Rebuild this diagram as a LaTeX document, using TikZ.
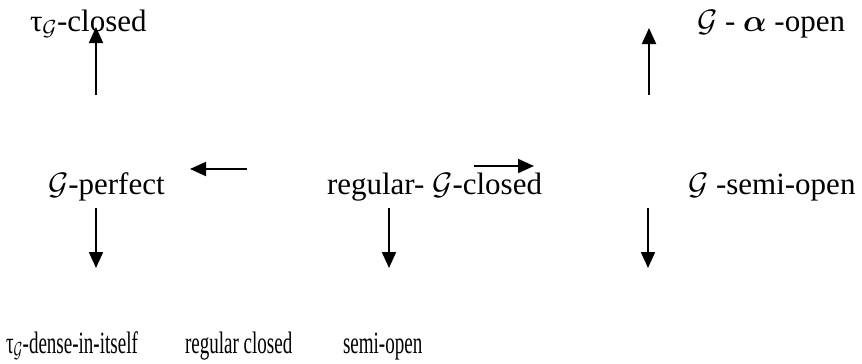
\documentclass[tikz,border=0pt]{standalone}
\usepackage{fix-cm}
\usepackage{amsmath}
\usepackage{bm}
\usepackage{fontspec}
\setmainfont{Liberation Serif}
\usetikzlibrary{arrows.meta}
\tikzset{
  lbl/.style={anchor=base west, inner sep=0pt, outer sep=0pt, font=\fontsize{31}{35}\selectfont},
  imp/.style={line width=2pt, -{Triangle[length=16pt,width=14pt]}}
}
\begin{document}
\begin{tikzpicture}[x=1pt,y=-1pt]
\useasboundingbox (0,0) rectangle (862,364);
% top row
\node[lbl] (tc) at (30,31) {τ$_{\mathcal{G}}$-closed};
\node[lbl] (ga) at (697,31) {$\mathcal{G}$ - $\bm{\alpha}$ -open};
% middle row
\node[lbl] (gp) at (48,194) {$\mathcal{G}$-perfect};
\node[lbl] (rg) at (327,194) {regular- $\mathcal{G}$-closed};
\node[lbl] (gs) at (688,194) {$\mathcal{G}$ -semi-open};
% bottom row
\node[lbl] (td) at (6,353) {\scalebox{0.614}[1]{τ$_{\mathcal{G}}$-dense-in-itself}};
\node[lbl] (rc) at (185,353) {\scalebox{0.614}[1]{regular closed}};
\node[lbl] (so) at (343,353) {\scalebox{0.614}[1]{semi-open}};
% arrow ends
\coordinate (a1s) at (96,95);  \coordinate (a1e) at (96,27);
\coordinate (a2s) at (649,95); \coordinate (a2e) at (649,28);
\coordinate (a3s) at (247,169); \coordinate (a3e) at (190,169);
\coordinate (a4s) at (474,166); \coordinate (a4e) at (534,166);
\coordinate (a5s) at (96,208); \coordinate (a5e) at (96,268);
\coordinate (a6s) at (389,208); \coordinate (a6e) at (389,268);
\coordinate (a7s) at (648,208); \coordinate (a7e) at (648,268);
\draw[imp] (a1s) -- (a1e);
\draw[imp] (a2s) -- (a2e);
\draw[imp] (a3s) -- (a3e);
\draw[imp] (a4s) -- (a4e);
\draw[imp] (a5s) -- (a5e);
\draw[imp] (a6s) -- (a6e);
\draw[imp] (a7s) -- (a7e);
\end{tikzpicture}
\end{document}
